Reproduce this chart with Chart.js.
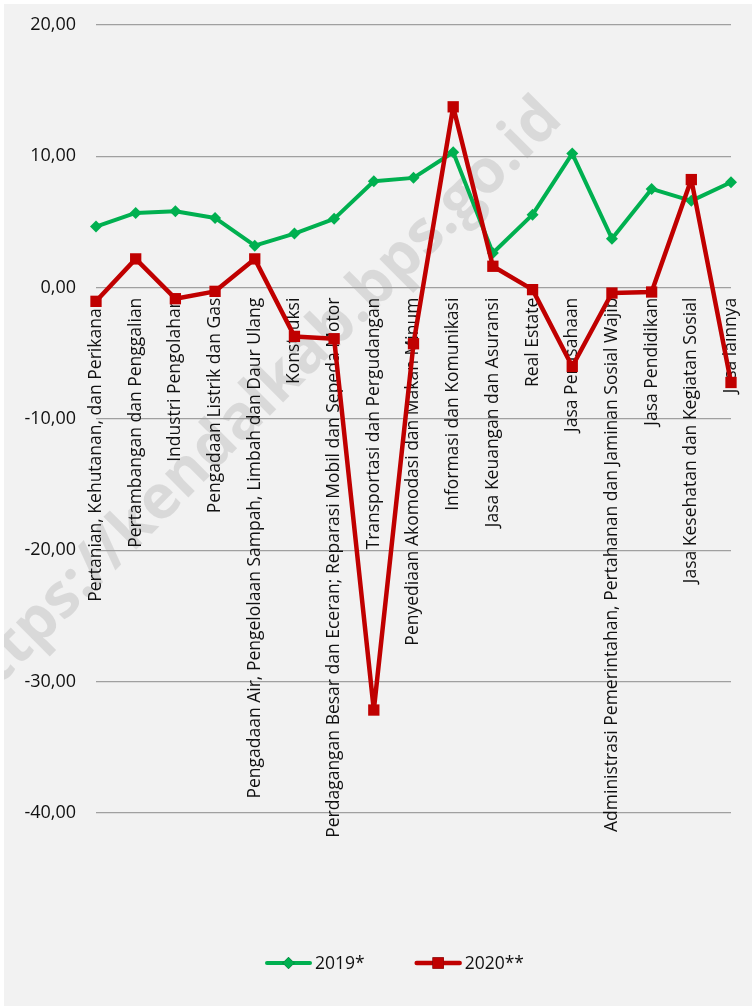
<!DOCTYPE html>
<html lang="id">
<head>
<meta charset="utf-8">
<title>Laju Pertumbuhan PDRB Menurut Lapangan Usaha</title>
<script src="https://cdn.jsdelivr.net/npm/chart.js@4.4.1/dist/chart.umd.min.js"></script>
<style>
  html, body { margin: 0; padding: 0; background: #fff; }
  #wrap { position: absolute; left: 4px; top: 4px; width: 748px; height: 1002px; background: #f2f2f2; }
</style>
</head>
<body>
<div id="wrap"><canvas id="chart" width="748" height="1002"></canvas></div>
<script>
// lapangan usaha (kategori sumbu X)
const lapanganUsaha = [
  'Pertanian, Kehutanan, dan Perikanan',
  'Pertambangan dan Penggalian',
  'Industri Pengolahan',
  'Pengadaan Listrik dan Gas',
  'Pengadaan Air, Pengelolaan Sampah, Limbah dan Daur Ulang',
  'Konstruksi',
  'Perdagangan Besar dan Eceran; Reparasi Mobil dan Sepeda Motor',
  'Transportasi dan Pergudangan',
  'Penyediaan Akomodasi dan Makan Minum',
  'Informasi dan Komunikasi',
  'Jasa Keuangan dan Asuransi',
  'Real Estate',
  'Jasa Perusahaan',
  'Administrasi Pemerintahan, Pertahanan dan Jaminan Sosial Wajib',
  'Jasa Pendidikan',
  'Jasa Kesehatan dan Kegiatan Sosial',
  'Jasa lainnya'
];

// laju pertumbuhan (%)
const tahun2019 = [4.65, 5.69, 5.82, 5.31, 3.20, 4.12, 5.24, 8.10, 8.36, 10.31, 2.64, 5.56, 10.21, 3.73, 7.52, 6.61, 8.03];
const tahun2020 = [-1.04, 2.19, -0.84, -0.28, 2.19, -3.71, -3.89, -32.16, -4.27, 13.77, 1.63, -0.15, -6.00, -0.41, -0.33, 8.23, -7.22];

const namaSeri = ['2019*', '2020**'];
const yTicks = [20, 10, 0, -10, -20, -30, -40];

const HIJAU = '#00b050';
const MERAH = '#c00000';
const FONT = "'Open Sans', sans-serif";

Chart.defaults.font.family = FONT;
Chart.defaults.font.size = 17.5;
Chart.defaults.color = '#111';

const fmt = v => v.toFixed(2).replace('.', ',');

// watermark miring, di bawah grid dan garis
const watermark = {
  id: 'watermark',
  beforeDraw(chart) {
    const ctx = chart.ctx;
    ctx.save();
    ctx.translate(251, 402);
    ctx.rotate(-45 * Math.PI / 180);
    ctx.font = "bold 61px " + FONT;
    ctx.fillStyle = 'rgba(0,0,0,0.10)';
    ctx.textAlign = 'center';
    ctx.textBaseline = 'middle';
    ctx.fillText('https://kendalkab.bps.go.id', 0, 0);
    ctx.restore();
  }
};

// legenda: garis + marker + teks
const legendaGaris = {
  id: 'legendaGaris',
  afterDraw(chart) {
    const ctx = chart.ctx;
    const y = 959;
    let x = 263;
    ctx.save();
    ctx.font = '17.5px ' + FONT;
    ctx.textBaseline = 'middle';
    chart.data.datasets.forEach(ds => {
      ctx.strokeStyle = ds.borderColor;
      ctx.lineWidth = ds.borderWidth;
      ctx.lineCap = 'round';
      ctx.beginPath();
      ctx.moveTo(x, y);
      ctx.lineTo(x + 43, y);
      ctx.stroke();
      Chart.helpers.drawPoint(ctx, {
        pointStyle: ds.pointStyle,
        radius: ds.pointRadius,
        borderWidth: 0,
        rotation: 0
      }, x + 21.5, y);
      ctx.fillStyle = ds.pointBackgroundColor;
      ctx.fill();
      ctx.fillStyle = '#111';
      ctx.fillText(ds.label, x + 48, y + 1);
      x += 48 + ctx.measureText(ds.label).width + 52;
    });
    ctx.restore();
  }
};

new Chart(document.getElementById('chart'), {
  type: 'line',
  data: {
    labels: lapanganUsaha,
    datasets: [
      {
        label: namaSeri[0],
        data: tahun2019,
        borderColor: HIJAU,
        backgroundColor: HIJAU,
        pointBackgroundColor: HIJAU,
        pointBorderColor: HIJAU,
        borderWidth: 4,
        borderJoinStyle: 'round',
        borderCapStyle: 'round',
        pointStyle: 'rectRot',
        pointRadius: 6,
        pointBorderWidth: 0,
        tension: 0,
        order: 2
      },
      {
        label: namaSeri[1],
        data: tahun2020,
        borderColor: MERAH,
        backgroundColor: MERAH,
        pointBackgroundColor: MERAH,
        pointBorderColor: MERAH,
        borderWidth: 4.5,
        borderJoinStyle: 'round',
        borderCapStyle: 'round',
        pointStyle: 'rect',
        pointRadius: 8,
        pointBorderWidth: 0,
        tension: 0,
        order: 1
      }
    ]
  },
  options: {
    responsive: false,
    animation: false,
    layout: { padding: { left: 0, right: 21, top: 21, bottom: 193 } },
    plugins: {
      legend: { display: false },
      tooltip: { enabled: false }
    },
    scales: {
      x: {
        position: { y: 0 },
        offset: false,
        grid: { display: false, drawTicks: true, tickLength: 10 },
        border: { display: false },
        ticks: {
          autoSkip: false,
          minRotation: 90,
          maxRotation: 90,
          padding: 0,
          color: '#111'
        },
        afterFit(scale) { scale.height = 0; }
      },
      y: {
        min: Math.min(...yTicks),
        max: Math.max(...yTicks),
        grid: { color: '#a0a0a0', lineWidth: 1.3, drawTicks: true, tickLength: 20, tickColor: 'rgba(0,0,0,0)' },
        border: { display: false },
        ticks: {
          padding: 0,
          color: '#111',
          font: { size: 18 },
          callback: v => fmt(v)
        },
        afterBuildTicks(scale) { scale.ticks = yTicks.map(v => ({ value: v })); },
        afterFit(scale) { scale.width = 92; }
      }
    }
  },
  plugins: [watermark, legendaGaris]
});
</script>
</body>
</html>
